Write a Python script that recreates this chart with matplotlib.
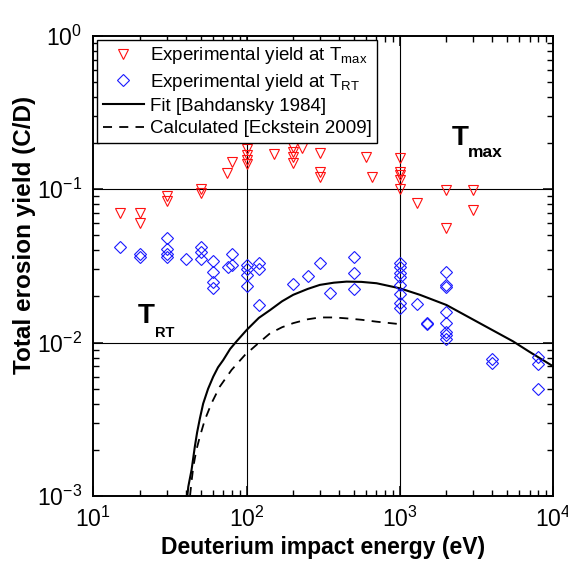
import matplotlib
matplotlib.use("Agg")
import matplotlib.pyplot as plt
from matplotlib.lines import Line2D

plt.rcParams["font.family"] = ["Liberation Sans", "DejaVu Sans"]
plt.rcParams["mathtext.fontset"] = "custom"
plt.rcParams["mathtext.rm"] = "Liberation Sans"
plt.rcParams["mathtext.it"] = "Liberation Sans:italic"
plt.rcParams["mathtext.bf"] = "Liberation Sans:bold"

# experimental yields at T_max (eV, C/D)
E_MAX = [15, 20, 20, 30, 30, 50, 50, 74, 80,
         100, 100, 100, 100, 150, 200, 200, 200, 200, 230,
         300, 300, 300, 600, 660,
         1000, 1000, 1000, 1000, 1000, 1300,
         2000, 2000, 3000, 3000]
Y_MAX = [0.070, 0.070, 0.060, 0.090, 0.084, 0.101, 0.094, 0.128, 0.150,
         0.184, 0.167, 0.155, 0.147, 0.170, 0.190, 0.176, 0.163, 0.148, 0.187,
         0.172, 0.130, 0.120, 0.163, 0.120,
         0.159, 0.130, 0.124, 0.115, 0.101, 0.081,
         0.099, 0.056, 0.099, 0.073]

# experimental yields at room temperature
E_RT = [15, 20, 20, 30, 30, 30, 30, 40, 50, 50, 50,
        60, 60, 60, 60, 75, 80, 80,
        100, 100, 100, 100, 120, 120, 120, 200, 250, 300, 350,
        500, 500, 500,
        1000, 1000, 1000, 1000, 1000, 1000, 1000, 1000,
        1300, 1500, 1500,
        2000, 2000, 2000, 2000, 2000, 2000, 2000, 2000,
        4000, 4000, 8000, 8000, 8000]
Y_RT = [0.042, 0.038, 0.036, 0.048, 0.041, 0.038, 0.036, 0.035, 0.042, 0.039, 0.035,
        0.034, 0.029, 0.025, 0.0226, 0.031, 0.038, 0.032,
        0.032, 0.030, 0.0276, 0.0235, 0.033, 0.030, 0.0177, 0.024, 0.027, 0.033, 0.0212,
        0.0364, 0.0285, 0.0223,
        0.033, 0.031, 0.0283, 0.0269, 0.0238, 0.0208, 0.0181, 0.0168,
        0.0178, 0.0135, 0.0132,
        0.0288, 0.0238, 0.0230, 0.0159, 0.0134, 0.0118, 0.0112, 0.0106,
        0.0078, 0.0074, 0.0081, 0.0073, 0.0050]

# Bohdansky fit
E_FIT = [41, 41.6, 42.6, 43.7, 45.9, 47.5, 49.5, 52, 56, 60.5, 65, 70.3, 78,
         85.9, 100, 120, 142, 170, 201, 250, 300, 370, 448, 560,
         703, 1000, 1350, 2010, 3310, 5460, 7010, 10000]
Y_FIT = [0.001, 0.00115, 0.00130, 0.00148, 0.0021, 0.0026, 0.0032, 0.0040, 0.0050,
         0.0060, 0.0069, 0.0077, 0.0091, 0.0102, 0.0121, 0.0145, 0.0163, 0.0186,
         0.0205, 0.0224, 0.0238, 0.0246, 0.0250, 0.0249,
         0.0244, 0.0226, 0.0205, 0.0176, 0.0134, 0.0102, 0.0087, 0.0070]

# Eckstein calculation
E_CALC = [42.7, 43.7, 44.9, 47, 49.5, 53.3, 59, 66.8, 79.7, 97.3, 119, 142,
          170, 201, 250, 300, 370, 448, 560, 703, 1000]
Y_CALC = [0.001, 0.00125, 0.00156, 0.0020, 0.00244, 0.00313, 0.00403, 0.00517,
          0.00664, 0.0083, 0.0099, 0.0115, 0.0126, 0.0134, 0.0142, 0.0146, 0.0146,
          0.0144, 0.0141, 0.0137, 0.0132]

fig = plt.figure(figsize=(5.68, 5.62), dpi=100)
ax = fig.add_axes([0.1644, 0.1174, 0.8097, 0.8187])
ax.set_xscale("log")
ax.set_yscale("log")
ax.set_xlim(10, 1e4)
ax.set_ylim(1e-3, 1)

for v in (1e2, 1e3):
    ax.axvline(v, color="black", lw=0.8, zorder=1)
for v in (1e-2, 1e-1):
    ax.axhline(v, color="black", lw=0.8, zorder=1)

ax.plot(E_FIT, Y_FIT, color="black", lw=1.5, zorder=3)
ax.plot(E_CALC, Y_CALC, color="black", lw=1.3, dashes=(5, 4), zorder=3)
ax.plot(E_MAX, Y_MAX, ls="none", marker="v", ms=7.8, mfc="none", mec="#ff1010",
        mew=0.8, zorder=4)
ax.plot(E_RT, Y_RT, ls="none", marker="D", ms=6.2, mfc="none", mec="#1a1aff",
        mew=0.8, zorder=4)

ax.tick_params(which="both", direction="in", top=True, right=True)
ax.tick_params(which="major", length=7, width=1.1, labelsize=16.5, pad=8)
ax.tick_params(which="minor", length=4, width=1.0)
for s in ax.spines.values():
    s.set_linewidth(1.4)

ax.set_xlabel("Deuterium impact energy (eV)", fontsize=16.5, fontweight="bold",
              labelpad=3)
ax.set_ylabel("Total erosion yield (C/D)", fontsize=17.5, fontweight="bold")
ax.yaxis.set_label_coords(-0.125, 0.567)

handles = [
    Line2D([], [], ls="none", marker="v", ms=7.8, mfc="none", mec="#ff1010", mew=0.8),
    Line2D([], [], ls="none", marker="D", ms=6.2, mfc="none", mec="#1a1aff", mew=0.8),
    Line2D([], [], color="black", lw=1.5),
    Line2D([], [], color="black", lw=1.3, dashes=(5, 4)),
]
labels = ["Experimental yield at T$_{\\mathrm{max}}$",
          "Experimental yield at T$_{\\mathrm{RT}}$",
          "Fit [Bahdansky 1984]",
          "Calculated [Eckstein 2009]"]
leg = ax.legend(handles, labels, loc="upper left", fontsize=13.5, numpoints=1,
                handlelength=2.2, handletextpad=0.3, labelspacing=0.28,
                borderaxespad=0.2, borderpad=0.3, fancybox=False,
                framealpha=1, edgecolor="black")
leg.get_frame().set_linewidth(1.0)
leg.set_zorder(5)

ax.text(0.779, 0.763, "T", transform=ax.transAxes, fontsize=20, fontweight="bold",
        ha="left", va="baseline")
ax.text(0.815, 0.737, "max", transform=ax.transAxes, fontsize=12.5, fontweight="bold",
        ha="left", va="baseline")
ax.text(0.0956, 0.3754, "T", transform=ax.transAxes, fontsize=20, fontweight="bold",
        ha="left", va="baseline")
ax.text(0.134, 0.3462, "RT", transform=ax.transAxes, fontsize=10.5, fontweight="bold",
        ha="left", va="baseline")

fig.savefig("out.png", dpi=100)
